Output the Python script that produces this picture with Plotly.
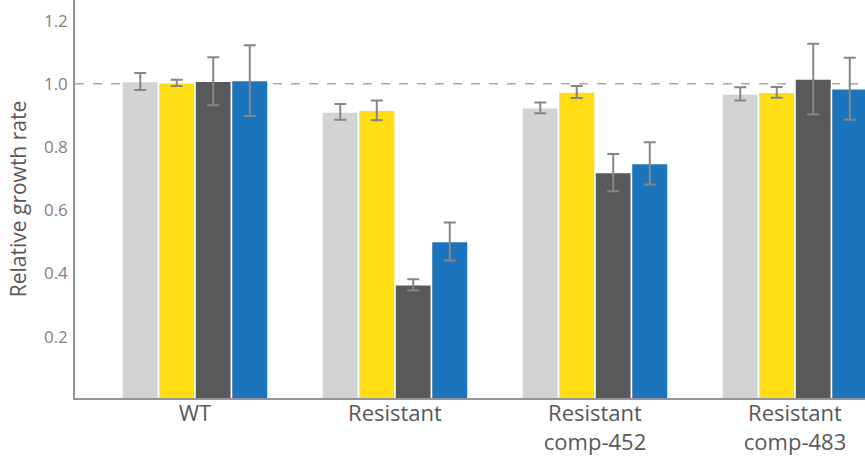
import plotly.graph_objects as go

categories = ["WT", "Resistant", "Resistant<br>comp-452", "Resistant<br>comp-483"]
series_names = ["S1", "S2", "S3", "S4"]
series_colors = ["#d1d3d4", "#ffdd15", "#58595b", "#1c75bc"]
values = [
    [1.007, 0.911, 0.924, 0.968],
    [1.003, 0.916, 0.974, 0.973],
    [1.008, 0.364, 0.719, 1.015],
    [1.010, 0.501, 0.748, 0.984],
]
errors = [
    [0.027, 0.025, 0.017, 0.021],
    [0.010, 0.031, 0.019, 0.017],
    [0.076, 0.018, 0.059, 0.112],
    [0.112, 0.060, 0.067, 0.098],
]
ytick_vals = [0.2, 0.4, 0.6, 0.8, 1.0, 1.2]
ytick_text = ["0.2", "0.4", "0.6", "0.8", "1.0", "1.2"]

fig = go.Figure()
for name, color, vals, errs in zip(series_names, series_colors, values, errors):
    fig.add_trace(go.Bar(
        x=list(range(len(categories))), y=vals, name=name,
        marker=dict(color=color, line=dict(color="white", width=1.5)),
        error_y=dict(type="data", array=errs, visible=True,
                     color="#858688", thickness=2, width=6),
    ))

fig.add_shape(type="line", xref="paper", yref="y", x0=0, x1=1, y0=1.0, y1=1.0,
              line=dict(color="#a7a9ac", width=1.5, dash="dash"), layer="below")

fig.update_layout(
    width=865, height=456,
    margin=dict(l=75, r=0, t=0, b=58),
    paper_bgcolor="white", plot_bgcolor="white",
    showlegend=False,
    barmode="group", bargap=0.27, bargroupgap=0,
    font=dict(family="Open Sans", color="#58595b"),
    xaxis=dict(
        range=[-0.6, 3.35], tickvals=list(range(len(categories))), ticktext=categories,
        showline=True, linecolor="#939598", linewidth=1.5, ticks="",
        showgrid=False, zeroline=False, automargin=False,
        tickfont=dict(size=22, color="#58595b"),
        ticklabelstandoff=-5,
    ),
    yaxis=dict(
        range=[0.006, 1.265], tickvals=ytick_vals, ticktext=ytick_text,
        showline=True, linecolor="#939598", linewidth=1.5, ticks="",
        showgrid=False, zeroline=False, automargin=False,
        tickfont=dict(size=17, color="#808285"),
        ticklabelstandoff=2,
        title=dict(text="Relative growth rate", font=dict(size=21, color="#58595b"), standoff=12),
    ),
)

fig.write_html(
    "out.html",
    config={"displayModeBar": False},
    post_script="document.body.style.margin='0';document.body.style.overflow='hidden';",
)
